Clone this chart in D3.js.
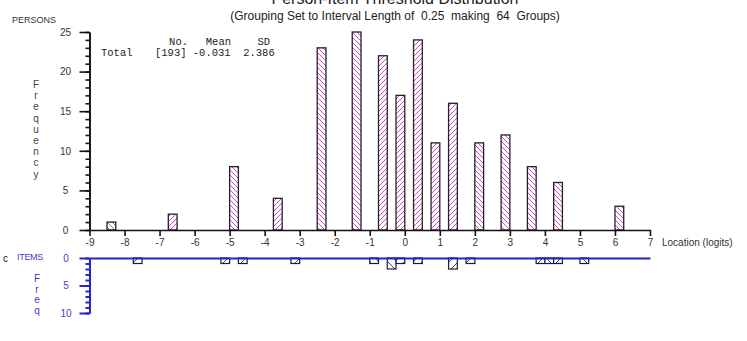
<!DOCTYPE html>
<html>
<head>
<meta charset="utf-8">
<script src="https://cdn.jsdelivr.net/npm/d3@7"></script>
<style>
  body { margin: 0; background: #fff; }
  svg { display: block; font-family: Arial, "Liberation Sans", sans-serif; }
  .mono { font-family: "Liberation Mono", "Courier New", monospace; }
</style>
</head>
<body>
<script>
// persons histogram (bin lower edge, interval 0.25 logits)
var personBins = [-8.5, -6.75, -5, -3.75, -2.5, -1.5, -0.75, -0.25, 0.25, 0.75, 1.25, 2, 2.75, 3.5, 4.25, 6];
var personCounts = [1, 2, 8, 4, 23, 25, 22, 17, 24, 11, 16, 11, 12, 8, 6, 3];
var personHatch = ['b', 'f', 'b', 'f', 'b', 'b', 'f', 'f', 'f', 'f', 'f', 'b', 'b', 'b', 'b', 'b'];

// item thresholds (hang down below the axis)
var itemBins = [-7.75, -5.25, -4.75, -3.25, -1, -0.5, -0.25, 0.25, 1.25, 1.75, 3.75, 4, 4.25, 5];
var itemCounts = [1, 1, 1, 1, 1, 2, 1, 1, 2, 1, 1, 1, 1, 1];
var itemHatch = ['f', 'f', 'f', 'f', 'b', 'b', 'f', 'f', 'f', 'f', 'f', 'b', 'f', 'b'];

var xTicks = d3.range(-9, 8);
var yMajor = [0, 5, 10, 15, 20, 25];
var itemMajor = [0, 5, 10];
var binWidth = 0.25;

var title = "Person-Item Threshold Distribution";
var subtitle = "(Grouping Set to Interval Length of  0.25  making  64  Groups)";
var statHead = ['No.', 'Mean', 'SD'];
var statLabel = 'Total';
var statValues = '[193] -0.031  2.386';

var svg = d3.select('body').append('svg')
  .attr('width', 747)
  .attr('height', 341);

var defs = svg.append('defs');
function hatch(id, dir, color, size, sw) {
  var p = defs.append('pattern')
    .attr('id', id)
    .attr('patternUnits', 'userSpaceOnUse')
    .attr('width', size)
    .attr('height', size);
  p.append('rect').attr('width', size).attr('height', size).attr('fill', '#fff');
  var s = size;
  var d = dir == 'f'
    ? 'M-1,1 l2,-2 M0,' + s + ' l' + s + ',-' + s + ' M' + (s - 1) + ',' + (s + 1) + ' l2,-2'
    : 'M-1,' + (s - 1) + ' l2,2 M0,0 l' + s + ',' + s + ' M' + (s - 1) + ',-1 l2,2';
  p.append('path').attr('d', d).attr('stroke', color).attr('stroke-width', sw).attr('fill', 'none');
}
hatch('pf', 'f', '#c837c8', 5, 0.9);
hatch('pb', 'b', '#c837c8', 5, 0.9);
hatch('if', 'f', '#2a2a6a', 9, 0.9);
hatch('ib', 'b', '#2a2a6a', 9, 0.9);

var x = d3.scaleLinear().domain([-9, 7]).range([89.5, 650]);
var y = d3.scaleLinear().domain([0, 25]).range([230, 32]);
var yi = d3.scaleLinear().domain([0, 10]).range([258, 313]);

// titles (main title is clipped by the top edge, as in the original)
svg.append('text')
  .attr('x', 395).attr('y', 4)
  .attr('text-anchor', 'middle')
  .attr('font-size', 16)
  .attr('fill', '#222')
  .text(title);

svg.append('text')
  .attr('x', 395).attr('y', 20)
  .attr('text-anchor', 'middle')
  .attr('font-size', 12)
  .attr('fill', '#222')
  .style('white-space', 'pre')
  .text(subtitle);

svg.append('text')
  .attr('x', 12).attr('y', 23)
  .attr('font-size', 9)
  .attr('fill', '#333')
  .text('PERSONS');

// vertical "Frequency"
svg.append('g')
  .selectAll('text')
  .data('Frequency'.split(''))
  .enter().append('text')
  .attr('x', 36)
  .attr('y', function (d, i) { return 88 + i * 11.2; })
  .attr('text-anchor', 'middle')
  .attr('font-size', 10)
  .attr('fill', '#444')
  .text(function (d) { return d; });

// person bars
svg.append('g')
  .selectAll('rect')
  .data(personBins)
  .enter().append('rect')
  .attr('x', function (d) { return x(d); })
  .attr('y', function (d, i) { return y(personCounts[i]); })
  .attr('width', function (d) { return x(d + binWidth) - x(d); })
  .attr('height', function (d, i) { return y(0) - y(personCounts[i]); })
  .attr('fill', function (d, i) { return 'url(#p' + personHatch[i] + ')'; })
  .attr('stroke', '#222')
  .attr('stroke-width', 1.3);

// person axes
var gx = svg.append('g')
  .attr('transform', 'translate(0,230)')
  .call(d3.axisBottom(x)
    .tickValues(xTicks)
    .tickSize(6)
    .tickSizeOuter(0)
    .tickPadding(3)
    .tickFormat(function (d) { return String(d); }));

svg.append('g')
  .attr('transform', 'translate(89.5,0)')
  .call(d3.axisLeft(y).tickValues(d3.range(0, 26)).tickSize(4).tickSizeOuter(0).tickFormat(''));

var gy = svg.append('g')
  .attr('transform', 'translate(89.5,0)')
  .call(d3.axisLeft(y).tickValues(yMajor).tickSize(10).tickSizeOuter(0));
gy.selectAll('text').attr('x', -24).attr('text-anchor', 'middle');

[gx, gy].forEach(function (g) {
  g.attr('font-family', null).attr('font-size', 10);
  g.selectAll('text').attr('fill', '#333');
});
svg.selectAll('.domain, .tick line').attr('stroke', '#111').attr('stroke-width', 1.6);

svg.append('text')
  .attr('x', 662).attr('y', 246)
  .attr('font-size', 10)
  .attr('fill', '#333')
  .text('Location (logits)');

// stats
var stats = svg.append('g').attr('class', 'mono').attr('font-size', 10.5).attr('fill', '#222');
var headEnd = [188, 231, 270];
stats.selectAll('.h')
  .data(statHead)
  .enter().append('text')
  .attr('x', function (d, i) { return headEnd[i]; })
  .attr('y', 45)
  .attr('text-anchor', 'end')
  .text(function (d) { return d; });
stats.append('text')
  .attr('x', 101).attr('y', 56)
  .text(statLabel);
stats.append('text')
  .attr('x', 155).attr('y', 56)
  .style('white-space', 'pre')
  .text(statValues);

// items section
var blue = '#2424c8';
var items = svg.append('g');

items.append('g')
  .selectAll('rect')
  .data(itemBins)
  .enter().append('rect')
  .attr('x', function (d) { return x(d); })
  .attr('y', yi(0))
  .attr('width', function (d) { return x(d + binWidth) - x(d); })
  .attr('height', function (d, i) { return yi(itemCounts[i]) - yi(0); })
  .attr('fill', function (d, i) { return 'url(#i' + itemHatch[i] + ')'; })
  .attr('stroke', '#1c1c40')
  .attr('stroke-width', 1.2);

items.append('g')
  .attr('transform', 'translate(89.5,0)')
  .call(d3.axisLeft(yi).tickValues(d3.range(0, 11)).tickSize(4).tickSizeOuter(0).tickFormat(''));
var gi2 = items.append('g')
  .attr('transform', 'translate(89.5,0)')
  .call(d3.axisLeft(yi).tickValues(itemMajor).tickSize(10).tickSizeOuter(0));
gi2.attr('font-family', null).attr('font-size', 10);
gi2.selectAll('text').attr('x', -23.5).attr('text-anchor', 'middle').attr('fill', '#4a3ccc');
items.selectAll('.domain, .tick line').attr('stroke', blue).attr('stroke-width', 2);

items.append('g')
  .attr('transform', 'translate(0,' + yi(0) + ')')
  .call(d3.axisBottom(x).tickValues([]).tickSizeOuter(0))
  .select('.domain')
  .attr('stroke', blue)
  .attr('stroke-width', 2);

items.append('text')
  .attr('x', 17).attr('y', 260)
  .attr('font-size', 9)
  .attr('fill', '#3c3ccc')
  .attr('letter-spacing', -0.3)
  .text('ITEMS');

items.append('text')
  .attr('x', 3).attr('y', 262)
  .attr('font-size', 10)
  .attr('fill', '#222')
  .text('c');

items.append('g')
  .selectAll('text')
  .data('Freq'.split(''))
  .enter().append('text')
  .attr('x', 37)
  .attr('y', function (d, i) { return 282 + i * 10.6; })
  .attr('text-anchor', 'middle')
  .attr('font-size', 10)
  .attr('fill', '#3c3ccc')
  .text(function (d) { return d; });
</script>
</body>
</html>
